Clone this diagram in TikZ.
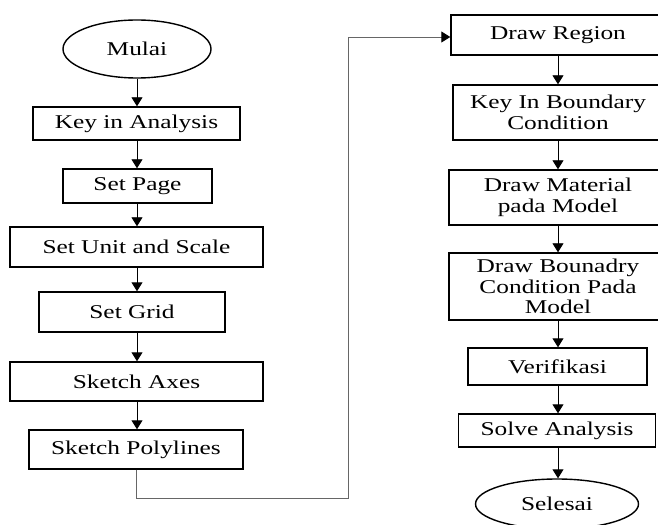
\documentclass[tikz,border=0pt]{standalone}
\usepackage{fontspec}
\setmainfont{Liberation Serif}[FakeStretch=1.3]
\usetikzlibrary{shapes.geometric,arrows.meta}
\begin{document}
\begin{tikzpicture}[x=1bp,y=-1bp,
  box/.style={draw,line width=1.4bp,rectangle,inner sep=0pt,align=center,
    font=\fontsize{19.5bp}{20.5bp}\selectfont},
  term/.style={draw,line width=1.4bp,ellipse,inner sep=0pt,
    font=\fontsize{19.5bp}{20.5bp}\selectfont},
  arr/.style={line width=0.9bp,-{Triangle[width=11bp,length=9bp]}},
  link/.style={line width=0.9bp,draw=black!60,-{Triangle[width=11bp,length=9bp,color=black,fill=black]}}]
\useasboundingbox (0,0) rectangle (658,525);
\clip (0,0) rectangle (658,525);
\fill[white] (0,0) rectangle (658,525);
% left column
\node[term,minimum width=148bp,minimum height=58bp] (mulai) at (137,49) {Mulai};
\node[box,minimum width=207bp,minimum height=33bp] (kia) at (136.5,123.5) {Key in Analysis};
\node[box,minimum width=149bp,minimum height=34bp] (sp) at (137.5,186) {Set Page};
\node[box,minimum width=253bp,minimum height=40bp] (sus) at (136.5,247) {Set Unit and Scale};
\node[box,minimum width=186bp,minimum height=40bp] (sg) at (132,312) {Set Grid};
\node[box,minimum width=253bp,minimum height=39bp] (sa) at (136.5,381.5) {Sketch Axes};
\node[box,minimum width=214bp,minimum height=39bp] (spl) at (136,449.5) {Sketch Polylines};
% right column
\node[box,minimum width=214bp,minimum height=40bp] (dr) at (558,35) {Draw Region};
\node[box,minimum width=210bp,minimum height=55bp] (kib) at (558,112.5) {Key In Boundary\\Condition};
\node[box,minimum width=218bp,minimum height=55bp] (dm) at (558,197.5) {Draw Material\\pada Model};
\node[box,minimum width=218bp,minimum height=67bp] (db) at (558,286.5) {Draw Bounadry\\Condition Pada\\Model};
\node[box,minimum width=179bp,minimum height=37bp] (ver) at (557.5,366.5) {Verifikasi};
\node[box,minimum width=197bp,minimum height=33bp] (sol) at (557,430.5) {Solve Analysis};
\node[term,minimum width=163bp,minimum height=50bp] (sel) at (557,504) {Selesai};
% arrows left
\coordinate (xl) at (137,0);
\draw[arr] (mulai.south) -- (xl |- kia.north);
\draw[arr] (xl |- kia.south) -- (xl |- sp.north);
\draw[arr] (xl |- sp.south) -- (xl |- sus.north);
\draw[arr] (xl |- sus.south) -- (xl |- sg.north);
\draw[arr] (xl |- sg.south) -- (xl |- sa.north);
\draw[arr] (xl |- sa.south) -- (xl |- spl.north);
% arrows right
\coordinate (xr) at (558,0);
\draw[arr] (xr |- dr.south) -- (xr |- kib.north);
\draw[arr] (xr |- kib.south) -- (xr |- dm.north);
\draw[arr] (xr |- dm.south) -- (xr |- db.north);
\draw[arr] (xr |- db.south) -- (xr |- ver.north);
\draw[arr] (xr |- ver.south) -- (xr |- sol.north);
\draw[arr] (xr |- sol.south) -- (xr |- sel.north);
% long connector
\coordinate (c1) at (136,498);
\coordinate (c2) at (348,498);
\coordinate (c3) at (348,37);
\draw[link] (spl.south -| c1) -- (c1) -- (c2) -- (c3) -- (c3 -| dr.west);
\end{tikzpicture}
\end{document}
